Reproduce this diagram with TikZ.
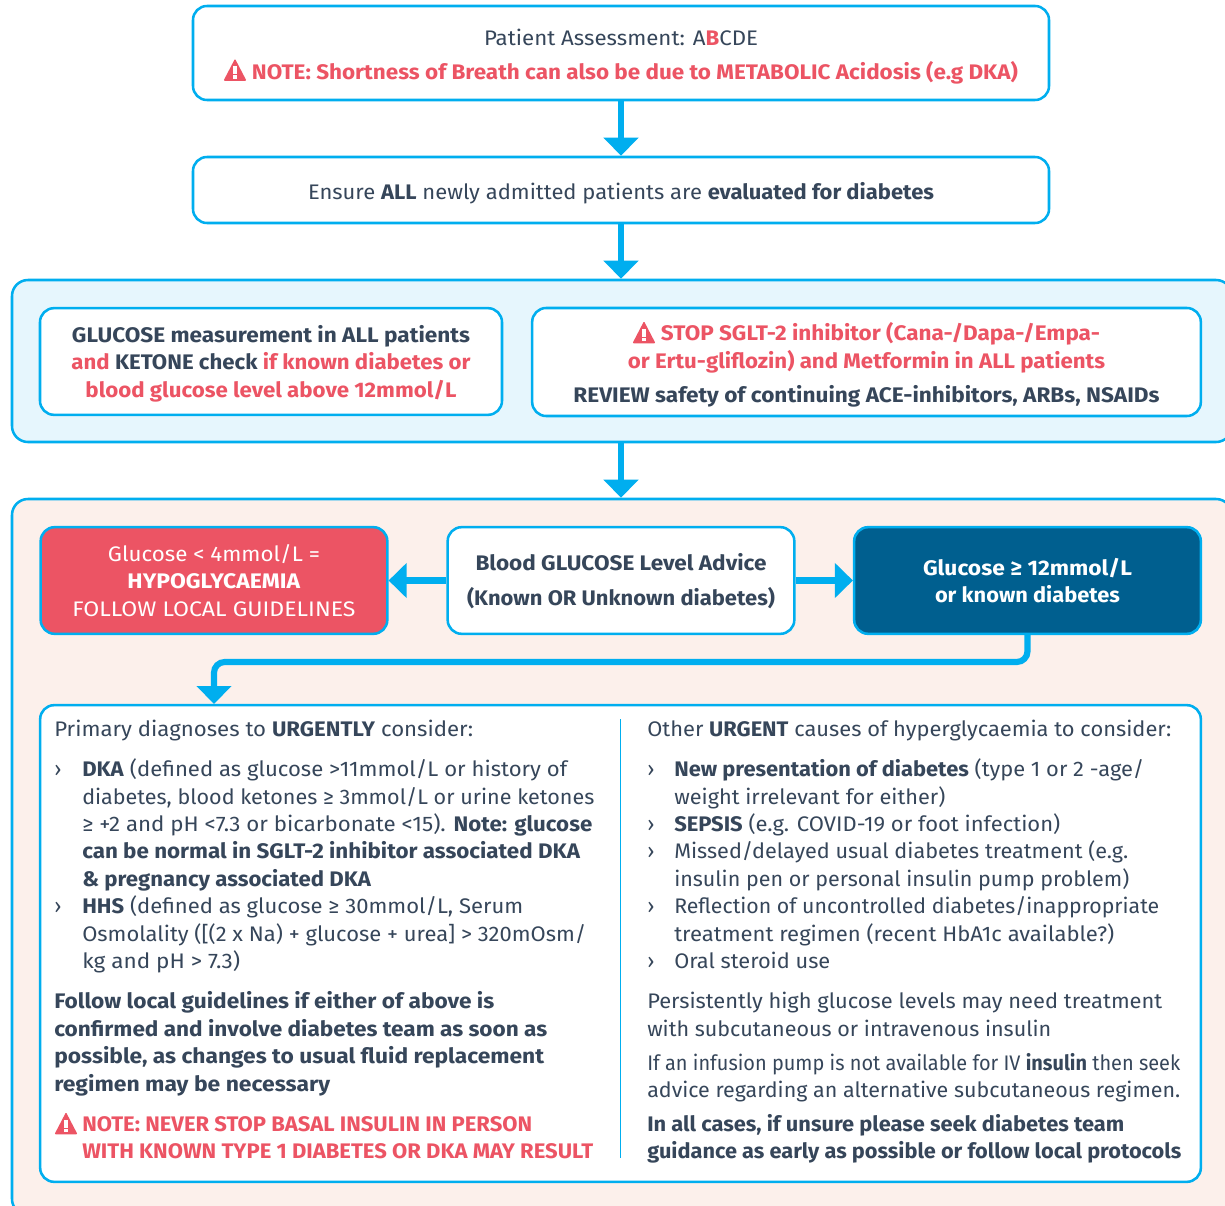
\documentclass[tikz,border=0pt]{standalone}
\usepackage{fontspec}
\usepackage{graphicx}
\setmainfont{Fira Sans}
\usetikzlibrary{arrows.meta}
\definecolor{cy}{HTML}{00AEEF}
\definecolor{tx}{HTML}{36465A}
\definecolor{rd}{HTML}{EC5464}
\definecolor{pb}{HTML}{E6F6FD}
\definecolor{po}{HTML}{FCF0EB}
\definecolor{dk}{HTML}{005F8F}
\newcommand{\sz}{\fontsize{15.8pt}{20.5pt}\selectfont}
\newcommand{\R}[1]{\textcolor{rd}{#1}}
\newcommand{\FW}[2]{\resizebox{\dimexpr #1pt*3/4\relax}{\height}{#2}}
\newcounter{tln}
\newcommand{\TL}[4]{\stepcounter{tln}\node[lin] (l\arabic{tln}) at (#1,#2) {\FW{#3}{#4}};}
\newcommand{\BL}[2]{\stepcounter{tln}\node[lin] (l\arabic{tln}) at (#1,#2) {›};}
\tikzset{
 bx/.style={draw=cy,line width=1.9pt,rounded corners=10.5pt,fill=white,inner sep=0pt,align=center,text=tx,font=\sz},
 panel/.style={draw=cy,line width=1.9pt,rounded corners=12pt},
 lin/.style={anchor=base west,inner sep=0pt,text=tx,font=\sz},
 arr/.style={draw=cy,line width=4.6pt,-{Triangle[length=13.5pt,width=25.5pt]}},
 warn/.pic={\fill[rd,rounded corners=0.8pt] (-11.5,10.8)--(0,-11.3)--(11.5,10.8)--cycle;
   \fill[white] (-1.8,-3.5) rectangle (1.8,4); \fill[white] (-1.8,5.5) rectangle (1.8,8.8);}
}
\begin{document}
\begin{tikzpicture}[x=0.75pt,y=-0.75pt]
\clip (0,0) rectangle (1225,1206);
\fill[white] (0,0) rectangle (1225,1206);
\node[bx,minimum width=642pt,minimum height=70.5pt] (top) at (621,53) {\rule{0pt}{17.5pt}\FW{274}{Patient Assessment: A\textbf{\R{B}}CDE}\\[5.2pt]\hspace*{21pt}\FW{766}{\textbf{\R{NOTE: Shortness of Breath can also be due to METABOLIC Acidosis (e.g DKA)}}}};
\node[bx,minimum width=642pt,minimum height=49.5pt] (eval) at (621,190) {\rule{0pt}{18pt}\FW{626}{Ensure \textbf{ALL} newly admitted patients are \textbf{evaluated for diabetes}}};
\node[panel,fill=pb,minimum width=915pt,minimum height=121.5pt] (pnlb) at (622,361) {};
\node[bx,minimum width=346.5pt,minimum height=80pt] (gluc) at (271,361.5) {\rule{0pt}{16pt}\FW{398}{\textbf{GLUCOSE measurement in ALL patients}}\\\FW{399}{\textbf{\R{and} KETONE check \R{if known diabetes or}}}\\\FW{371}{\textbf{\R{blood glucose level above 12mmol/L}}}};
\node[bx,minimum width=501.5pt,minimum height=81pt] (stop) at (866.5,362) {\rule{0pt}{18pt}\hspace*{21pt}\FW{439}{\textbf{\R{STOP SGLT-2 inhibitor (Cana-/Dapa-/Empa-}}}\\\FW{477}{\textbf{\R{or Ertu-gliflozin) and Metformin in ALL patients}}}\\[5pt]\FW{586}{\textbf{REVIEW safety of continuing ACE-inhibitors, ARBs, NSAIDs}}};
\node[panel,fill=po,minimum width=915pt,minimum height=537pt] (pnlo) at (622,857) {};
\node[bx,fill=rd,text=white,minimum width=260pt,minimum height=80pt] (hypo) at (214,580.5) {\FW{212}{Glucose < 4mmol/L =}\\\FW{173}{\textbf{HYPOGLYCAEMIA}}\\\FW{283}{FOLLOW LOCAL GUIDELINES}};
\node[bx,minimum width=260pt,minimum height=80pt] (adv) at (621,580.5) {\rule{0pt}{14pt}\FW{291}{\textbf{Blood GLUCOSE Level Advice}}\\[5.5pt]\FW{308}{\textbf{(Known OR Unknown diabetes)}}};
\node[bx,fill=dk,text=white,minimum width=260pt,minimum height=80pt] (high) at (1027.5,580.5) {\rule{0pt}{13.2pt}\FW{209}{\textbf{Glucose ≥ 12mmol/L}}\\\FW{185}{\textbf{or known diabetes}}};
\node[bx,minimum width=870.5pt,minimum height=357.5pt] (diag) at (620.5,943.5) {};
\coordinate (dtop) at (214,704);
\coordinate (rt) at (214,662);
\coordinate (d1) at (620.5,719);
\coordinate (d2) at (620.5,1158);
\draw[arr] (top.south) -- (eval.north);
\draw[arr] (eval.south) -- (eval.south |- pnlb.north);
\draw[arr] (pnlb.south -| eval.south) -- (eval.south |- pnlo.north);
\draw[arr] (adv.west) -- (hypo.east);
\draw[arr] (adv.east) -- (high.west);
\draw[arr,rounded corners=8pt] (high.south) |- (rt) -- (dtop);
\draw[cy,line width=0.9pt] (d1) -- (d2);
\pic at (235,70) {warn};
\pic at (644,332.5) {warn};
\pic at (66,1123.5) {warn};
% left column
\TL{54}{736}{419}{Primary diagnoses to \textbf{URGENTLY} consider:}
\BL{54}{776}
\TL{82}{776}{485}{\textbf{DKA} (defined as glucose >11mmol/L or history of}
\TL{82}{804}{512}{diabetes, blood ketones ≥ 3mmol/L or urine ketones}
\TL{82}{831}{510}{≥ +2 and pH <7.3 or bicarbonate <15). \textbf{Note: glucose}}
\TL{82}{858}{498}{\textbf{can be normal in SGLT-2 inhibitor associated DKA}}
\TL{82}{886}{289}{\textbf{\& pregnancy associated DKA}}
\BL{54}{913}
\TL{82}{913}{441}{\textbf{HHS} (defined as glucose ≥ 30mmol/L, Serum}
\TL{82}{941}{504}{Osmolality ([(2 x Na) + glucose + urea] > 320mOsm/}
\TL{82}{968}{158}{kg and pH > 7.3)}
\TL{54}{1008}{440}{\textbf{Follow local guidelines if either of above is}}
\TL{54}{1036}{493}{\textbf{confirmed and involve diabetes team as soon as}}
\TL{54}{1063}{490}{\textbf{possible, as changes to usual fluid replacement}}
\TL{54}{1091}{276}{\textbf{regimen may be necessary}}
\TL{82}{1131}{450}{\textbf{\R{NOTE: NEVER STOP BASAL INSULIN IN PERSON}}}
\TL{82}{1158}{511}{\textbf{\R{WITH KNOWN TYPE 1 DIABETES OR DKA MAY RESULT}}}
% right column
\TL{647}{736}{524}{Other \textbf{URGENT} causes of hyperglycaemia to consider:}
\BL{647}{776}
\TL{674}{776}{470}{\textbf{New presentation of diabetes} (type 1 or 2 -age/}
\TL{674}{804}{271}{weight irrelevant for either)}
\BL{647}{831}
\TL{674}{831}{386}{\textbf{SEPSIS} (e.g. COVID-19 or foot infection)}
\BL{647}{858}
\TL{674}{858}{454}{Missed/delayed usual diabetes treatment (e.g.}
\TL{674}{886}{455}{insulin pen or personal insulin pump problem)}
\BL{647}{913}
\TL{674}{913}{485}{Reflection of uncontrolled diabetes/inappropriate}
\TL{674}{941}{440}{treatment regimen (recent HbA1c available?)}
\BL{647}{968}
\TL{674}{968}{156}{Oral steroid use}
\TL{647}{1008}{515}{Persistently high glucose levels may need treatment}
\TL{647}{1036}{404}{with subcutaneous or intravenous insulin}
\TL{647}{1070}{533}{If an infusion pump is not available for IV \textbf{insulin} then seek}
\TL{647}{1097}{533}{advice regarding an alternative subcutaneous regimen.}
\TL{647}{1131}{477}{\textbf{In all cases, if unsure please seek diabetes team}}
\TL{647}{1158}{534}{\textbf{guidance as early as possible or follow local protocols}}
\end{tikzpicture}
\end{document}
